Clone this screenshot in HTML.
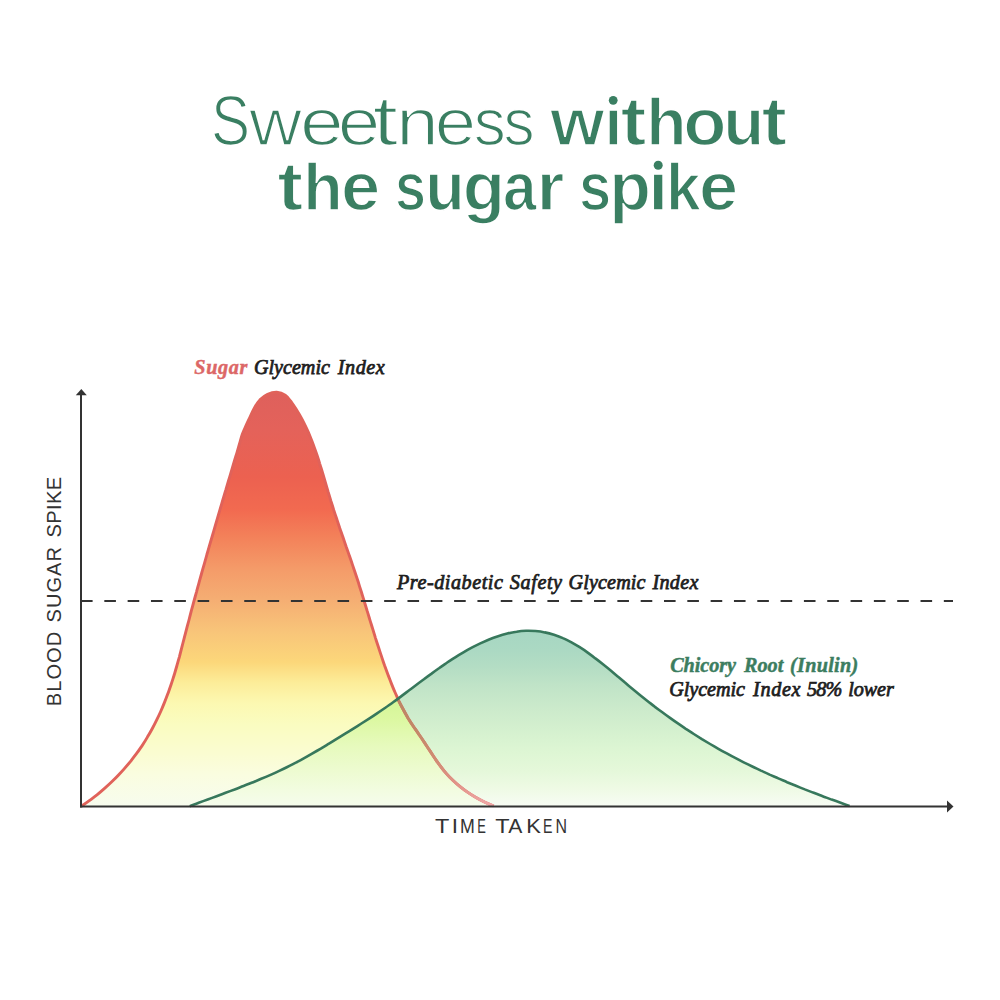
<!DOCTYPE html>
<html><head><meta charset="utf-8"><style>
html,body{margin:0;padding:0;background:#fff;width:1000px;height:1000px;overflow:hidden}
svg{display:block}
</style></head><body>
<svg width="1000" height="1000" viewBox="0 0 1000 1000">
<defs>
<linearGradient id="rg" gradientUnits="userSpaceOnUse" x1="0" y1="390" x2="0" y2="806">
<stop offset="0.000" stop-color="#de605c"/>
<stop offset="0.096" stop-color="#e4625a"/>
<stop offset="0.209" stop-color="#ec6150"/>
<stop offset="0.288" stop-color="#f26a50"/>
<stop offset="0.356" stop-color="#f3825a"/>
<stop offset="0.430" stop-color="#f49b69"/>
<stop offset="0.505" stop-color="#f5ae73"/>
<stop offset="0.579" stop-color="#f8c479"/>
<stop offset="0.654" stop-color="#fcd77a"/>
<stop offset="0.702" stop-color="#fcec98"/>
<stop offset="0.752" stop-color="#fcf8b1"/>
<stop offset="0.803" stop-color="#fafcc0"/>
<stop offset="0.877" stop-color="#fafcd2"/>
<stop offset="0.925" stop-color="#fafde0"/>
<stop offset="1.000" stop-color="#f7fcee"/>
</linearGradient>
<linearGradient id="gg" gradientUnits="userSpaceOnUse" x1="0" y1="631" x2="0" y2="806">
<stop offset="0.000" stop-color="#a6d6c2"/>
<stop offset="0.109" stop-color="#abd9c3"/>
<stop offset="0.206" stop-color="#b4ddc4"/>
<stop offset="0.303" stop-color="#bfe3c7"/>
<stop offset="0.400" stop-color="#c8e8ca"/>
<stop offset="0.503" stop-color="#d0edcd"/>
<stop offset="0.600" stop-color="#d7f2d0"/>
<stop offset="0.697" stop-color="#def6d4"/>
<stop offset="0.800" stop-color="#e5f8da"/>
<stop offset="0.897" stop-color="#eefae4"/>
<stop offset="1.000" stop-color="#f7fcf4"/>
</linearGradient>
<linearGradient id="og" gradientUnits="userSpaceOnUse" x1="0" y1="697" x2="0" y2="806">
<stop offset="0.000" stop-color="#d4f596"/>
<stop offset="0.211" stop-color="#dcf8a2"/>
<stop offset="0.440" stop-color="#e6fabc"/>
<stop offset="0.670" stop-color="#edfbd0"/>
<stop offset="0.853" stop-color="#f2fce0"/>
<stop offset="1.000" stop-color="#f5fcec"/>
</linearGradient>
<linearGradient id="rs" gradientUnits="userSpaceOnUse" x1="0" y1="697" x2="0" y2="806">
<stop offset="0.000" stop-color="#bc8464"/>
<stop offset="0.303" stop-color="#c28868"/>
<stop offset="0.578" stop-color="#d08c74"/>
<stop offset="0.807" stop-color="#e2948a"/>
<stop offset="1.000" stop-color="#f0a8a8"/>
</linearGradient>
<clipPath id="gclip"><path d="M189.8 806.2 C191.3 805.6 195.7 804.0 198.7 802.8 C201.7 801.7 204.7 800.6 207.7 799.5 C210.7 798.4 213.6 797.3 216.6 796.2 C219.6 795.1 222.6 794.0 225.6 792.8 C228.6 791.7 231.6 790.6 234.6 789.5 C237.5 788.3 240.5 787.2 243.5 786.0 C246.5 784.9 249.4 783.7 252.4 782.5 C255.3 781.3 258.3 780.1 261.2 778.8 C264.2 777.6 267.1 776.4 270.0 775.1 C272.9 773.8 275.8 772.5 278.7 771.1 C281.6 769.8 284.5 768.4 287.3 767.0 C290.2 765.6 293.0 764.1 295.8 762.7 C298.6 761.2 301.4 759.7 304.2 758.1 C307.0 756.6 309.8 755.0 312.5 753.4 C315.3 751.8 318.0 750.2 320.8 748.6 C323.5 746.9 326.2 745.3 329.0 743.6 C331.7 742.0 334.4 740.3 337.1 738.6 C339.8 737.0 342.5 735.3 345.2 733.6 C348.0 732.0 350.7 730.3 353.4 728.6 C356.1 726.9 358.7 725.2 361.4 723.5 C364.1 721.8 366.8 720.1 369.5 718.4 C372.1 716.7 374.8 714.9 377.4 713.1 C380.1 711.4 382.7 709.6 385.3 707.8 C387.9 705.9 390.5 704.1 393.1 702.2 C395.7 700.4 398.3 698.5 400.8 696.6 C403.4 694.7 406.0 692.7 408.5 690.8 C411.1 688.9 413.6 687.0 416.2 685.0 C418.7 683.1 421.3 681.2 423.9 679.3 C426.4 677.3 429.0 675.4 431.6 673.6 C434.1 671.7 436.7 669.8 439.3 668.0 C441.9 666.1 444.6 664.3 447.2 662.5 C449.9 660.8 452.5 659.0 455.2 657.3 C457.9 655.6 460.6 654.0 463.4 652.4 C466.1 650.8 468.9 649.2 471.7 647.7 C474.5 646.2 477.4 644.8 480.3 643.4 C483.2 642.1 486.1 640.8 489.1 639.5 C492.0 638.3 495.0 637.2 498.1 636.2 C501.1 635.2 504.2 634.3 507.3 633.5 C510.4 632.7 513.5 632.1 516.6 631.7 C519.7 631.2 522.9 630.9 526.0 630.8 C529.1 630.7 532.3 630.8 535.4 631.0 C538.6 631.3 541.7 631.7 544.8 632.4 C547.9 633.0 551.0 633.8 554.0 634.7 C557.0 635.7 560.0 636.8 562.9 638.1 C565.8 639.3 568.7 640.8 571.5 642.3 C574.3 643.8 577.0 645.5 579.7 647.2 C582.4 648.9 585.1 650.7 587.7 652.6 C590.3 654.5 592.9 656.4 595.4 658.4 C598.0 660.3 600.5 662.3 603.0 664.3 C605.5 666.3 608.0 668.3 610.4 670.3 C612.9 672.4 615.3 674.4 617.7 676.4 C620.2 678.5 622.6 680.5 625.0 682.6 C627.4 684.6 629.9 686.7 632.3 688.7 C634.7 690.7 637.2 692.7 639.6 694.7 C642.1 696.7 644.6 698.7 647.1 700.7 C649.6 702.7 652.1 704.6 654.6 706.6 C657.2 708.5 659.7 710.4 662.3 712.3 C664.8 714.2 667.4 716.1 670.0 717.9 C672.6 719.8 675.2 721.6 677.9 723.4 C680.5 725.2 683.1 727.0 685.8 728.8 C688.5 730.5 691.1 732.3 693.8 734.0 C696.5 735.7 699.2 737.4 701.9 739.1 C704.7 740.8 707.4 742.4 710.1 744.0 C712.9 745.6 715.6 747.2 718.4 748.8 C721.2 750.4 724.0 751.9 726.8 753.4 C729.6 755.0 732.4 756.5 735.2 757.9 C738.0 759.4 740.9 760.9 743.7 762.3 C746.6 763.7 749.4 765.1 752.3 766.5 C755.1 767.9 758.0 769.2 760.9 770.6 C763.8 771.9 766.7 773.2 769.6 774.6 C772.5 775.9 775.4 777.1 778.3 778.4 C781.2 779.7 784.2 780.9 787.1 782.2 C790.0 783.4 793.0 784.6 795.9 785.8 C798.9 787.0 801.8 788.2 804.8 789.4 C807.8 790.5 810.7 791.7 813.7 792.8 C816.7 794.0 819.7 795.1 822.6 796.2 C825.6 797.3 828.6 798.5 831.6 799.6 C834.6 800.6 837.6 801.7 840.6 802.8 C843.6 803.9 848.1 805.5 849.6 806.0 Z"/></clipPath>
</defs>
<!-- title -->
<g font-family="'Liberation Sans', sans-serif" fill="#3a7f62" stroke="#fff" stroke-width="1.6">
<text transform="translate(210.93 145.26) scale(0.8889 1.0717)" font-size="65.9">S</text>
<text transform="translate(249.22 145.20) scale(1.1027 1.0000)" font-size="65.9">w</text>
<text transform="translate(300.12 145.20) scale(1.1902 1.0000)" font-size="65.9">e</text>
<text transform="translate(337.63 145.20) scale(1.1595 1.0000)" font-size="65.9">e</text>
<text transform="translate(372.59 145.25) scale(1.3987 1.0585)" font-size="65.9">t</text>
<text transform="translate(396.30 145.20) scale(1.1593 1.0000)" font-size="65.9">n</text>
<text transform="translate(434.84 145.20) scale(1.1288 1.0000)" font-size="65.9">e</text>
<text transform="translate(473.74 145.20) scale(0.9729 1.0000)" font-size="65.9">s</text>
<text transform="translate(503.51 145.20) scale(0.9434 1.0000)" font-size="65.9">s</text>
<text transform="translate(550.36 145.00) scale(1.0564 1.0000)" font-size="65.9" font-weight="bold">w</text>
<text transform="translate(604.37 145.00) scale(0.9944 1.0000)" font-size="65.9" font-weight="bold">ı</text>
<text transform="translate(620.50 145.04) scale(1.1849 1.0486)" font-size="65.9" font-weight="bold">t</text>
<text transform="translate(646.29 145.00) scale(1.0011 1.0054)" font-size="65.9" font-weight="bold">h</text>
<text transform="translate(683.37 145.00) scale(1.0744 1.0000)" font-size="65.9" font-weight="bold">o</text>
<text transform="translate(723.22 145.00) scale(1.0191 1.0000)" font-size="65.9" font-weight="bold">u</text>
<text transform="translate(761.53 145.04) scale(1.1635 1.0486)" font-size="65.9" font-weight="bold">t</text>
<text transform="translate(277.33 210.41) scale(1.1489 1.0134)" font-size="67.8" font-weight="bold">t</text>
<text transform="translate(303.33 210.38) scale(0.9522 0.9720)" font-size="67.8" font-weight="bold">h</text>
<text transform="translate(341.01 210.40) scale(1.0404 1.0000)" font-size="67.8" font-weight="bold">e</text>
<text transform="translate(394.99 210.40) scale(0.8209 1.0000)" font-size="67.8" font-weight="bold">s</text>
<text transform="translate(425.13 210.40) scale(0.9537 1.0000)" font-size="67.8" font-weight="bold">u</text>
<text transform="translate(462.74 210.40) scale(1.0216 1.0000)" font-size="67.8" font-weight="bold">g</text>
<text transform="translate(503.02 210.40) scale(0.8885 1.0000)" font-size="67.8" font-weight="bold">a</text>
<text transform="translate(536.53 210.40) scale(1.0576 1.0000)" font-size="67.8" font-weight="bold">r</text>
<text transform="translate(579.08 210.40) scale(0.8532 1.0000)" font-size="67.8" font-weight="bold">s</text>
<text transform="translate(609.19 210.40) scale(1.0072 1.0000)" font-size="67.8" font-weight="bold">p</text>
<text transform="translate(648.07 210.40) scale(1.0776 1.0000)" font-size="67.8" font-weight="bold">ı</text>
<text transform="translate(666.01 210.38) scale(0.9192 0.9784)" font-size="67.8" font-weight="bold">k</text>
<text transform="translate(699.02 210.40) scale(1.0372 1.0000)" font-size="67.8" font-weight="bold">e</text>
</g>
<circle cx="613.2" cy="100.3" r="4.4" fill="#3a7f62"/><circle cx="658.2" cy="165.2" r="4.5" fill="#3a7f62"/>
<!-- red curve -->
<path d="M81.5 806.2 C82.8 805.3 86.8 802.6 89.3 800.7 C91.9 798.7 94.5 796.8 97.0 794.8 C99.5 792.8 101.9 790.7 104.3 788.6 C106.8 786.4 109.1 784.3 111.5 782.0 C113.8 779.8 116.1 777.6 118.3 775.2 C120.5 772.9 122.7 770.6 124.8 768.1 C126.9 765.7 129.0 763.3 131.0 760.8 C133.0 758.3 134.9 755.7 136.8 753.2 C138.7 750.6 140.5 747.9 142.3 745.3 C144.1 742.6 145.8 739.9 147.4 737.1 C149.1 734.4 150.7 731.6 152.2 728.8 C153.7 726.0 155.2 723.1 156.6 720.2 C158.0 717.3 159.4 714.4 160.7 711.5 C162.0 708.5 163.2 705.6 164.4 702.6 C165.7 699.6 166.8 696.6 167.9 693.6 C169.0 690.5 170.1 687.5 171.1 684.5 C172.2 681.4 173.1 678.3 174.1 675.3 C175.0 672.2 175.9 669.1 176.8 666.0 C177.7 662.9 178.5 659.8 179.4 656.8 C180.2 653.7 181.0 650.6 181.8 647.4 C182.6 644.3 183.4 641.2 184.2 638.1 C185.0 635.0 185.8 631.9 186.6 628.8 C187.4 625.7 188.3 622.6 189.1 619.5 C189.9 616.4 190.7 613.3 191.5 610.2 C192.4 607.1 193.2 604.0 194.0 600.9 C194.9 597.8 195.7 594.7 196.6 591.6 C197.4 588.5 198.3 585.4 199.1 582.3 C200.0 579.2 200.8 576.1 201.7 573.0 C202.6 569.9 203.4 566.8 204.3 563.8 C205.2 560.7 206.1 557.6 206.9 554.5 C207.8 551.4 208.7 548.3 209.6 545.2 C210.5 542.1 211.4 539.0 212.3 536.0 C213.2 532.9 214.1 529.8 215.0 526.7 C215.9 523.6 216.8 520.5 217.7 517.4 C218.6 514.4 219.5 511.3 220.4 508.2 C221.3 505.1 222.2 502.0 223.1 498.9 C224.0 495.9 224.9 492.8 225.9 489.7 C226.8 486.6 227.7 483.5 228.6 480.5 C229.5 477.4 230.5 474.3 231.4 471.2 C232.3 468.2 233.2 465.1 234.1 462.0 C235.0 458.9 236.0 455.8 236.9 452.8 C237.8 449.7 238.7 446.6 239.6 443.5 C240.5 440.4 241.3 437.3 242.3 434.3 C243.4 431.3 244.7 428.5 246.0 425.6 C247.3 422.7 248.7 419.8 250.1 416.8 C251.5 413.9 252.8 410.7 254.4 407.9 C256.0 405.0 257.7 402.2 259.9 399.9 C262.1 397.7 264.8 395.6 267.6 394.3 C270.4 393.1 273.8 392.2 276.7 392.3 C279.7 392.5 282.7 393.5 285.2 395.2 C287.6 396.9 289.7 400.0 291.7 402.6 C293.7 405.2 295.4 408.1 297.1 410.8 C298.9 413.6 300.5 416.4 302.0 419.2 C303.5 422.0 304.9 424.9 306.2 427.7 C307.6 430.6 308.9 433.5 310.1 436.5 C311.3 439.4 312.5 442.4 313.6 445.4 C314.7 448.4 315.7 451.4 316.8 454.4 C317.8 457.5 318.8 460.5 319.7 463.6 C320.7 466.7 321.6 469.8 322.6 472.9 C323.5 475.9 324.4 479.0 325.3 482.1 C326.2 485.2 327.1 488.3 328.0 491.4 C329.0 494.5 329.9 497.6 330.8 500.7 C331.8 503.8 332.8 506.8 333.7 509.9 C334.7 513.0 335.7 516.0 336.8 519.1 C337.8 522.1 338.8 525.2 339.8 528.2 C340.9 531.2 341.9 534.3 343.0 537.3 C344.0 540.3 345.1 543.4 346.1 546.4 C347.2 549.4 348.2 552.4 349.3 555.5 C350.3 558.5 351.4 561.5 352.4 564.6 C353.4 567.6 354.5 570.6 355.5 573.7 C356.5 576.7 357.5 579.8 358.5 582.8 C359.4 585.9 360.4 588.9 361.4 592.0 C362.3 595.1 363.3 598.1 364.2 601.2 C365.2 604.3 366.1 607.3 367.0 610.4 C368.0 613.5 368.9 616.6 369.8 619.6 C370.8 622.7 371.7 625.8 372.7 628.9 C373.6 631.9 374.6 635.0 375.5 638.1 C376.5 641.2 377.5 644.2 378.5 647.3 C379.5 650.3 380.5 653.4 381.5 656.4 C382.5 659.5 383.6 662.5 384.6 665.5 C385.7 668.6 386.8 671.6 387.9 674.6 C389.1 677.6 390.2 680.6 391.4 683.6 C392.6 686.6 393.8 689.6 395.1 692.5 C396.4 695.4 397.7 698.4 399.0 701.3 C400.4 704.2 401.9 707.0 403.4 709.8 C404.9 712.7 406.5 715.5 408.1 718.2 C409.8 720.9 411.5 723.6 413.3 726.3 C415.1 728.9 417.0 731.5 418.8 734.2 C420.6 736.8 422.5 739.5 424.2 742.2 C426.0 744.8 427.7 747.6 429.5 750.2 C431.3 752.9 433.0 755.6 434.8 758.3 C436.6 760.9 438.4 763.6 440.4 766.1 C442.3 768.7 444.3 771.2 446.4 773.6 C448.5 776.0 450.7 778.3 453.1 780.5 C455.4 782.7 457.8 784.8 460.4 786.8 C462.9 788.8 465.5 790.8 468.2 792.6 C470.9 794.4 473.6 796.1 476.4 797.7 C479.2 799.3 482.1 800.8 485.0 802.2 C487.9 803.6 492.2 805.4 493.7 806.0 Z" fill="url(#rg)"/>
<path d="M189.8 806.2 C191.3 805.6 195.7 804.0 198.7 802.8 C201.7 801.7 204.7 800.6 207.7 799.5 C210.7 798.4 213.6 797.3 216.6 796.2 C219.6 795.1 222.6 794.0 225.6 792.8 C228.6 791.7 231.6 790.6 234.6 789.5 C237.5 788.3 240.5 787.2 243.5 786.0 C246.5 784.9 249.4 783.7 252.4 782.5 C255.3 781.3 258.3 780.1 261.2 778.8 C264.2 777.6 267.1 776.4 270.0 775.1 C272.9 773.8 275.8 772.5 278.7 771.1 C281.6 769.8 284.5 768.4 287.3 767.0 C290.2 765.6 293.0 764.1 295.8 762.7 C298.6 761.2 301.4 759.7 304.2 758.1 C307.0 756.6 309.8 755.0 312.5 753.4 C315.3 751.8 318.0 750.2 320.8 748.6 C323.5 746.9 326.2 745.3 329.0 743.6 C331.7 742.0 334.4 740.3 337.1 738.6 C339.8 737.0 342.5 735.3 345.2 733.6 C348.0 732.0 350.7 730.3 353.4 728.6 C356.1 726.9 358.7 725.2 361.4 723.5 C364.1 721.8 366.8 720.1 369.5 718.4 C372.1 716.7 374.8 714.9 377.4 713.1 C380.1 711.4 382.7 709.6 385.3 707.8 C387.9 705.9 390.5 704.1 393.1 702.2 C395.7 700.4 398.3 698.5 400.8 696.6 C403.4 694.7 406.0 692.7 408.5 690.8 C411.1 688.9 413.6 687.0 416.2 685.0 C418.7 683.1 421.3 681.2 423.9 679.3 C426.4 677.3 429.0 675.4 431.6 673.6 C434.1 671.7 436.7 669.8 439.3 668.0 C441.9 666.1 444.6 664.3 447.2 662.5 C449.9 660.8 452.5 659.0 455.2 657.3 C457.9 655.6 460.6 654.0 463.4 652.4 C466.1 650.8 468.9 649.2 471.7 647.7 C474.5 646.2 477.4 644.8 480.3 643.4 C483.2 642.1 486.1 640.8 489.1 639.5 C492.0 638.3 495.0 637.2 498.1 636.2 C501.1 635.2 504.2 634.3 507.3 633.5 C510.4 632.7 513.5 632.1 516.6 631.7 C519.7 631.2 522.9 630.9 526.0 630.8 C529.1 630.7 532.3 630.8 535.4 631.0 C538.6 631.3 541.7 631.7 544.8 632.4 C547.9 633.0 551.0 633.8 554.0 634.7 C557.0 635.7 560.0 636.8 562.9 638.1 C565.8 639.3 568.7 640.8 571.5 642.3 C574.3 643.8 577.0 645.5 579.7 647.2 C582.4 648.9 585.1 650.7 587.7 652.6 C590.3 654.5 592.9 656.4 595.4 658.4 C598.0 660.3 600.5 662.3 603.0 664.3 C605.5 666.3 608.0 668.3 610.4 670.3 C612.9 672.4 615.3 674.4 617.7 676.4 C620.2 678.5 622.6 680.5 625.0 682.6 C627.4 684.6 629.9 686.7 632.3 688.7 C634.7 690.7 637.2 692.7 639.6 694.7 C642.1 696.7 644.6 698.7 647.1 700.7 C649.6 702.7 652.1 704.6 654.6 706.6 C657.2 708.5 659.7 710.4 662.3 712.3 C664.8 714.2 667.4 716.1 670.0 717.9 C672.6 719.8 675.2 721.6 677.9 723.4 C680.5 725.2 683.1 727.0 685.8 728.8 C688.5 730.5 691.1 732.3 693.8 734.0 C696.5 735.7 699.2 737.4 701.9 739.1 C704.7 740.8 707.4 742.4 710.1 744.0 C712.9 745.6 715.6 747.2 718.4 748.8 C721.2 750.4 724.0 751.9 726.8 753.4 C729.6 755.0 732.4 756.5 735.2 757.9 C738.0 759.4 740.9 760.9 743.7 762.3 C746.6 763.7 749.4 765.1 752.3 766.5 C755.1 767.9 758.0 769.2 760.9 770.6 C763.8 771.9 766.7 773.2 769.6 774.6 C772.5 775.9 775.4 777.1 778.3 778.4 C781.2 779.7 784.2 780.9 787.1 782.2 C790.0 783.4 793.0 784.6 795.9 785.8 C798.9 787.0 801.8 788.2 804.8 789.4 C807.8 790.5 810.7 791.7 813.7 792.8 C816.7 794.0 819.7 795.1 822.6 796.2 C825.6 797.3 828.6 798.5 831.6 799.6 C834.6 800.6 837.6 801.7 840.6 802.8 C843.6 803.9 848.1 805.5 849.6 806.0 Z" fill="url(#gg)"/>
<path d="M81.5 806.2 C82.8 805.3 86.8 802.6 89.3 800.7 C91.9 798.7 94.5 796.8 97.0 794.8 C99.5 792.8 101.9 790.7 104.3 788.6 C106.8 786.4 109.1 784.3 111.5 782.0 C113.8 779.8 116.1 777.6 118.3 775.2 C120.5 772.9 122.7 770.6 124.8 768.1 C126.9 765.7 129.0 763.3 131.0 760.8 C133.0 758.3 134.9 755.7 136.8 753.2 C138.7 750.6 140.5 747.9 142.3 745.3 C144.1 742.6 145.8 739.9 147.4 737.1 C149.1 734.4 150.7 731.6 152.2 728.8 C153.7 726.0 155.2 723.1 156.6 720.2 C158.0 717.3 159.4 714.4 160.7 711.5 C162.0 708.5 163.2 705.6 164.4 702.6 C165.7 699.6 166.8 696.6 167.9 693.6 C169.0 690.5 170.1 687.5 171.1 684.5 C172.2 681.4 173.1 678.3 174.1 675.3 C175.0 672.2 175.9 669.1 176.8 666.0 C177.7 662.9 178.5 659.8 179.4 656.8 C180.2 653.7 181.0 650.6 181.8 647.4 C182.6 644.3 183.4 641.2 184.2 638.1 C185.0 635.0 185.8 631.9 186.6 628.8 C187.4 625.7 188.3 622.6 189.1 619.5 C189.9 616.4 190.7 613.3 191.5 610.2 C192.4 607.1 193.2 604.0 194.0 600.9 C194.9 597.8 195.7 594.7 196.6 591.6 C197.4 588.5 198.3 585.4 199.1 582.3 C200.0 579.2 200.8 576.1 201.7 573.0 C202.6 569.9 203.4 566.8 204.3 563.8 C205.2 560.7 206.1 557.6 206.9 554.5 C207.8 551.4 208.7 548.3 209.6 545.2 C210.5 542.1 211.4 539.0 212.3 536.0 C213.2 532.9 214.1 529.8 215.0 526.7 C215.9 523.6 216.8 520.5 217.7 517.4 C218.6 514.4 219.5 511.3 220.4 508.2 C221.3 505.1 222.2 502.0 223.1 498.9 C224.0 495.9 224.9 492.8 225.9 489.7 C226.8 486.6 227.7 483.5 228.6 480.5 C229.5 477.4 230.5 474.3 231.4 471.2 C232.3 468.2 233.2 465.1 234.1 462.0 C235.0 458.9 236.0 455.8 236.9 452.8 C237.8 449.7 238.7 446.6 239.6 443.5 C240.5 440.4 241.3 437.3 242.3 434.3 C243.4 431.3 244.7 428.5 246.0 425.6 C247.3 422.7 248.7 419.8 250.1 416.8 C251.5 413.9 252.8 410.7 254.4 407.9 C256.0 405.0 257.7 402.2 259.9 399.9 C262.1 397.7 264.8 395.6 267.6 394.3 C270.4 393.1 273.8 392.2 276.7 392.3 C279.7 392.5 282.7 393.5 285.2 395.2 C287.6 396.9 289.7 400.0 291.7 402.6 C293.7 405.2 295.4 408.1 297.1 410.8 C298.9 413.6 300.5 416.4 302.0 419.2 C303.5 422.0 304.9 424.9 306.2 427.7 C307.6 430.6 308.9 433.5 310.1 436.5 C311.3 439.4 312.5 442.4 313.6 445.4 C314.7 448.4 315.7 451.4 316.8 454.4 C317.8 457.5 318.8 460.5 319.7 463.6 C320.7 466.7 321.6 469.8 322.6 472.9 C323.5 475.9 324.4 479.0 325.3 482.1 C326.2 485.2 327.1 488.3 328.0 491.4 C329.0 494.5 329.9 497.6 330.8 500.7 C331.8 503.8 332.8 506.8 333.7 509.9 C334.7 513.0 335.7 516.0 336.8 519.1 C337.8 522.1 338.8 525.2 339.8 528.2 C340.9 531.2 341.9 534.3 343.0 537.3 C344.0 540.3 345.1 543.4 346.1 546.4 C347.2 549.4 348.2 552.4 349.3 555.5 C350.3 558.5 351.4 561.5 352.4 564.6 C353.4 567.6 354.5 570.6 355.5 573.7 C356.5 576.7 357.5 579.8 358.5 582.8 C359.4 585.9 360.4 588.9 361.4 592.0 C362.3 595.1 363.3 598.1 364.2 601.2 C365.2 604.3 366.1 607.3 367.0 610.4 C368.0 613.5 368.9 616.6 369.8 619.6 C370.8 622.7 371.7 625.8 372.7 628.9 C373.6 631.9 374.6 635.0 375.5 638.1 C376.5 641.2 377.5 644.2 378.5 647.3 C379.5 650.3 380.5 653.4 381.5 656.4 C382.5 659.5 383.6 662.5 384.6 665.5 C385.7 668.6 386.8 671.6 387.9 674.6 C389.1 677.6 390.2 680.6 391.4 683.6 C392.6 686.6 393.8 689.6 395.1 692.5 C396.4 695.4 397.7 698.4 399.0 701.3 C400.4 704.2 401.9 707.0 403.4 709.8 C404.9 712.7 406.5 715.5 408.1 718.2 C409.8 720.9 411.5 723.6 413.3 726.3 C415.1 728.9 417.0 731.5 418.8 734.2 C420.6 736.8 422.5 739.5 424.2 742.2 C426.0 744.8 427.7 747.6 429.5 750.2 C431.3 752.9 433.0 755.6 434.8 758.3 C436.6 760.9 438.4 763.6 440.4 766.1 C442.3 768.7 444.3 771.2 446.4 773.6 C448.5 776.0 450.7 778.3 453.1 780.5 C455.4 782.7 457.8 784.8 460.4 786.8 C462.9 788.8 465.5 790.8 468.2 792.6 C470.9 794.4 473.6 796.1 476.4 797.7 C479.2 799.3 482.1 800.8 485.0 802.2 C487.9 803.6 492.2 805.4 493.7 806.0 Z" fill="url(#og)" clip-path="url(#gclip)"/>
<path d="M81.5 806.2 C82.8 805.3 86.8 802.6 89.3 800.7 C91.9 798.7 94.5 796.8 97.0 794.8 C99.5 792.8 101.9 790.7 104.3 788.6 C106.8 786.4 109.1 784.3 111.5 782.0 C113.8 779.8 116.1 777.6 118.3 775.2 C120.5 772.9 122.7 770.6 124.8 768.1 C126.9 765.7 129.0 763.3 131.0 760.8 C133.0 758.3 134.9 755.7 136.8 753.2 C138.7 750.6 140.5 747.9 142.3 745.3 C144.1 742.6 145.8 739.9 147.4 737.1 C149.1 734.4 150.7 731.6 152.2 728.8 C153.7 726.0 155.2 723.1 156.6 720.2 C158.0 717.3 159.4 714.4 160.7 711.5 C162.0 708.5 163.2 705.6 164.4 702.6 C165.7 699.6 166.8 696.6 167.9 693.6 C169.0 690.5 170.1 687.5 171.1 684.5 C172.2 681.4 173.1 678.3 174.1 675.3 C175.0 672.2 175.9 669.1 176.8 666.0 C177.7 662.9 178.5 659.8 179.4 656.8 C180.2 653.7 181.0 650.6 181.8 647.4 C182.6 644.3 183.4 641.2 184.2 638.1 C185.0 635.0 185.8 631.9 186.6 628.8 C187.4 625.7 188.3 622.6 189.1 619.5 C189.9 616.4 190.7 613.3 191.5 610.2 C192.4 607.1 193.2 604.0 194.0 600.9 C194.9 597.8 195.7 594.7 196.6 591.6 C197.4 588.5 198.3 585.4 199.1 582.3 C200.0 579.2 200.8 576.1 201.7 573.0 C202.6 569.9 203.4 566.8 204.3 563.8 C205.2 560.7 206.1 557.6 206.9 554.5 C207.8 551.4 208.7 548.3 209.6 545.2 C210.5 542.1 211.4 539.0 212.3 536.0 C213.2 532.9 214.1 529.8 215.0 526.7 C215.9 523.6 216.8 520.5 217.7 517.4 C218.6 514.4 219.5 511.3 220.4 508.2 C221.3 505.1 222.2 502.0 223.1 498.9 C224.0 495.9 224.9 492.8 225.9 489.7 C226.8 486.6 227.7 483.5 228.6 480.5 C229.5 477.4 230.5 474.3 231.4 471.2 C232.3 468.2 233.2 465.1 234.1 462.0 C235.0 458.9 236.0 455.8 236.9 452.8 C237.8 449.7 238.7 446.6 239.6 443.5 C240.5 440.4 241.3 437.3 242.3 434.3 C243.4 431.3 244.7 428.5 246.0 425.6 C247.3 422.7 248.7 419.8 250.1 416.8 C251.5 413.9 252.8 410.7 254.4 407.9 C256.0 405.0 257.7 402.2 259.9 399.9 C262.1 397.7 264.8 395.6 267.6 394.3 C270.4 393.1 273.8 392.2 276.7 392.3 C279.7 392.5 282.7 393.5 285.2 395.2 C287.6 396.9 289.7 400.0 291.7 402.6 C293.7 405.2 295.4 408.1 297.1 410.8 C298.9 413.6 300.5 416.4 302.0 419.2 C303.5 422.0 304.9 424.9 306.2 427.7 C307.6 430.6 308.9 433.5 310.1 436.5 C311.3 439.4 312.5 442.4 313.6 445.4 C314.7 448.4 315.7 451.4 316.8 454.4 C317.8 457.5 318.8 460.5 319.7 463.6 C320.7 466.7 321.6 469.8 322.6 472.9 C323.5 475.9 324.4 479.0 325.3 482.1 C326.2 485.2 327.1 488.3 328.0 491.4 C329.0 494.5 329.9 497.6 330.8 500.7 C331.8 503.8 332.8 506.8 333.7 509.9 C334.7 513.0 335.7 516.0 336.8 519.1 C337.8 522.1 338.8 525.2 339.8 528.2 C340.9 531.2 341.9 534.3 343.0 537.3 C344.0 540.3 345.1 543.4 346.1 546.4 C347.2 549.4 348.2 552.4 349.3 555.5 C350.3 558.5 351.4 561.5 352.4 564.6 C353.4 567.6 354.5 570.6 355.5 573.7 C356.5 576.7 357.5 579.8 358.5 582.8 C359.4 585.9 360.4 588.9 361.4 592.0 C362.3 595.1 363.3 598.1 364.2 601.2 C365.2 604.3 366.1 607.3 367.0 610.4 C368.0 613.5 368.9 616.6 369.8 619.6 C370.8 622.7 371.7 625.8 372.7 628.9 C373.6 631.9 374.6 635.0 375.5 638.1 C376.5 641.2 377.5 644.2 378.5 647.3 C379.5 650.3 380.5 653.4 381.5 656.4 C382.5 659.5 383.6 662.5 384.6 665.5 C385.7 668.6 386.8 671.6 387.9 674.6 C389.1 677.6 390.2 680.6 391.4 683.6 C392.6 686.6 393.8 689.6 395.1 692.5 C396.4 695.4 397.7 698.4 399.0 701.3 C400.4 704.2 401.9 707.0 403.4 709.8 C404.9 712.7 406.5 715.5 408.1 718.2 C409.8 720.9 411.5 723.6 413.3 726.3 C415.1 728.9 417.0 731.5 418.8 734.2 C420.6 736.8 422.5 739.5 424.2 742.2 C426.0 744.8 427.7 747.6 429.5 750.2 C431.3 752.9 433.0 755.6 434.8 758.3 C436.6 760.9 438.4 763.6 440.4 766.1 C442.3 768.7 444.3 771.2 446.4 773.6 C448.5 776.0 450.7 778.3 453.1 780.5 C455.4 782.7 457.8 784.8 460.4 786.8 C462.9 788.8 465.5 790.8 468.2 792.6 C470.9 794.4 473.6 796.1 476.4 797.7 C479.2 799.3 482.1 800.8 485.0 802.2 C487.9 803.6 492.2 805.4 493.7 806.0" fill="none" stroke="#e0625a" stroke-width="2.9"/>
<path d="M81.5 806.2 C82.8 805.3 86.8 802.6 89.3 800.7 C91.9 798.7 94.5 796.8 97.0 794.8 C99.5 792.8 101.9 790.7 104.3 788.6 C106.8 786.4 109.1 784.3 111.5 782.0 C113.8 779.8 116.1 777.6 118.3 775.2 C120.5 772.9 122.7 770.6 124.8 768.1 C126.9 765.7 129.0 763.3 131.0 760.8 C133.0 758.3 134.9 755.7 136.8 753.2 C138.7 750.6 140.5 747.9 142.3 745.3 C144.1 742.6 145.8 739.9 147.4 737.1 C149.1 734.4 150.7 731.6 152.2 728.8 C153.7 726.0 155.2 723.1 156.6 720.2 C158.0 717.3 159.4 714.4 160.7 711.5 C162.0 708.5 163.2 705.6 164.4 702.6 C165.7 699.6 166.8 696.6 167.9 693.6 C169.0 690.5 170.1 687.5 171.1 684.5 C172.2 681.4 173.1 678.3 174.1 675.3 C175.0 672.2 175.9 669.1 176.8 666.0 C177.7 662.9 178.5 659.8 179.4 656.8 C180.2 653.7 181.0 650.6 181.8 647.4 C182.6 644.3 183.4 641.2 184.2 638.1 C185.0 635.0 185.8 631.9 186.6 628.8 C187.4 625.7 188.3 622.6 189.1 619.5 C189.9 616.4 190.7 613.3 191.5 610.2 C192.4 607.1 193.2 604.0 194.0 600.9 C194.9 597.8 195.7 594.7 196.6 591.6 C197.4 588.5 198.3 585.4 199.1 582.3 C200.0 579.2 200.8 576.1 201.7 573.0 C202.6 569.9 203.4 566.8 204.3 563.8 C205.2 560.7 206.1 557.6 206.9 554.5 C207.8 551.4 208.7 548.3 209.6 545.2 C210.5 542.1 211.4 539.0 212.3 536.0 C213.2 532.9 214.1 529.8 215.0 526.7 C215.9 523.6 216.8 520.5 217.7 517.4 C218.6 514.4 219.5 511.3 220.4 508.2 C221.3 505.1 222.2 502.0 223.1 498.9 C224.0 495.9 224.9 492.8 225.9 489.7 C226.8 486.6 227.7 483.5 228.6 480.5 C229.5 477.4 230.5 474.3 231.4 471.2 C232.3 468.2 233.2 465.1 234.1 462.0 C235.0 458.9 236.0 455.8 236.9 452.8 C237.8 449.7 238.7 446.6 239.6 443.5 C240.5 440.4 241.3 437.3 242.3 434.3 C243.4 431.3 244.7 428.5 246.0 425.6 C247.3 422.7 248.7 419.8 250.1 416.8 C251.5 413.9 252.8 410.7 254.4 407.9 C256.0 405.0 257.7 402.2 259.9 399.9 C262.1 397.7 264.8 395.6 267.6 394.3 C270.4 393.1 273.8 392.2 276.7 392.3 C279.7 392.5 282.7 393.5 285.2 395.2 C287.6 396.9 289.7 400.0 291.7 402.6 C293.7 405.2 295.4 408.1 297.1 410.8 C298.9 413.6 300.5 416.4 302.0 419.2 C303.5 422.0 304.9 424.9 306.2 427.7 C307.6 430.6 308.9 433.5 310.1 436.5 C311.3 439.4 312.5 442.4 313.6 445.4 C314.7 448.4 315.7 451.4 316.8 454.4 C317.8 457.5 318.8 460.5 319.7 463.6 C320.7 466.7 321.6 469.8 322.6 472.9 C323.5 475.9 324.4 479.0 325.3 482.1 C326.2 485.2 327.1 488.3 328.0 491.4 C329.0 494.5 329.9 497.6 330.8 500.7 C331.8 503.8 332.8 506.8 333.7 509.9 C334.7 513.0 335.7 516.0 336.8 519.1 C337.8 522.1 338.8 525.2 339.8 528.2 C340.9 531.2 341.9 534.3 343.0 537.3 C344.0 540.3 345.1 543.4 346.1 546.4 C347.2 549.4 348.2 552.4 349.3 555.5 C350.3 558.5 351.4 561.5 352.4 564.6 C353.4 567.6 354.5 570.6 355.5 573.7 C356.5 576.7 357.5 579.8 358.5 582.8 C359.4 585.9 360.4 588.9 361.4 592.0 C362.3 595.1 363.3 598.1 364.2 601.2 C365.2 604.3 366.1 607.3 367.0 610.4 C368.0 613.5 368.9 616.6 369.8 619.6 C370.8 622.7 371.7 625.8 372.7 628.9 C373.6 631.9 374.6 635.0 375.5 638.1 C376.5 641.2 377.5 644.2 378.5 647.3 C379.5 650.3 380.5 653.4 381.5 656.4 C382.5 659.5 383.6 662.5 384.6 665.5 C385.7 668.6 386.8 671.6 387.9 674.6 C389.1 677.6 390.2 680.6 391.4 683.6 C392.6 686.6 393.8 689.6 395.1 692.5 C396.4 695.4 397.7 698.4 399.0 701.3 C400.4 704.2 401.9 707.0 403.4 709.8 C404.9 712.7 406.5 715.5 408.1 718.2 C409.8 720.9 411.5 723.6 413.3 726.3 C415.1 728.9 417.0 731.5 418.8 734.2 C420.6 736.8 422.5 739.5 424.2 742.2 C426.0 744.8 427.7 747.6 429.5 750.2 C431.3 752.9 433.0 755.6 434.8 758.3 C436.6 760.9 438.4 763.6 440.4 766.1 C442.3 768.7 444.3 771.2 446.4 773.6 C448.5 776.0 450.7 778.3 453.1 780.5 C455.4 782.7 457.8 784.8 460.4 786.8 C462.9 788.8 465.5 790.8 468.2 792.6 C470.9 794.4 473.6 796.1 476.4 797.7 C479.2 799.3 482.1 800.8 485.0 802.2 C487.9 803.6 492.2 805.4 493.7 806.0" fill="none" stroke="url(#rs)" stroke-width="2.9" clip-path="url(#gclip)"/>
<path d="M189.8 806.2 C191.3 805.6 195.7 804.0 198.7 802.8 C201.7 801.7 204.7 800.6 207.7 799.5 C210.7 798.4 213.6 797.3 216.6 796.2 C219.6 795.1 222.6 794.0 225.6 792.8 C228.6 791.7 231.6 790.6 234.6 789.5 C237.5 788.3 240.5 787.2 243.5 786.0 C246.5 784.9 249.4 783.7 252.4 782.5 C255.3 781.3 258.3 780.1 261.2 778.8 C264.2 777.6 267.1 776.4 270.0 775.1 C272.9 773.8 275.8 772.5 278.7 771.1 C281.6 769.8 284.5 768.4 287.3 767.0 C290.2 765.6 293.0 764.1 295.8 762.7 C298.6 761.2 301.4 759.7 304.2 758.1 C307.0 756.6 309.8 755.0 312.5 753.4 C315.3 751.8 318.0 750.2 320.8 748.6 C323.5 746.9 326.2 745.3 329.0 743.6 C331.7 742.0 334.4 740.3 337.1 738.6 C339.8 737.0 342.5 735.3 345.2 733.6 C348.0 732.0 350.7 730.3 353.4 728.6 C356.1 726.9 358.7 725.2 361.4 723.5 C364.1 721.8 366.8 720.1 369.5 718.4 C372.1 716.7 374.8 714.9 377.4 713.1 C380.1 711.4 382.7 709.6 385.3 707.8 C387.9 705.9 390.5 704.1 393.1 702.2 C395.7 700.4 398.3 698.5 400.8 696.6 C403.4 694.7 406.0 692.7 408.5 690.8 C411.1 688.9 413.6 687.0 416.2 685.0 C418.7 683.1 421.3 681.2 423.9 679.3 C426.4 677.3 429.0 675.4 431.6 673.6 C434.1 671.7 436.7 669.8 439.3 668.0 C441.9 666.1 444.6 664.3 447.2 662.5 C449.9 660.8 452.5 659.0 455.2 657.3 C457.9 655.6 460.6 654.0 463.4 652.4 C466.1 650.8 468.9 649.2 471.7 647.7 C474.5 646.2 477.4 644.8 480.3 643.4 C483.2 642.1 486.1 640.8 489.1 639.5 C492.0 638.3 495.0 637.2 498.1 636.2 C501.1 635.2 504.2 634.3 507.3 633.5 C510.4 632.7 513.5 632.1 516.6 631.7 C519.7 631.2 522.9 630.9 526.0 630.8 C529.1 630.7 532.3 630.8 535.4 631.0 C538.6 631.3 541.7 631.7 544.8 632.4 C547.9 633.0 551.0 633.8 554.0 634.7 C557.0 635.7 560.0 636.8 562.9 638.1 C565.8 639.3 568.7 640.8 571.5 642.3 C574.3 643.8 577.0 645.5 579.7 647.2 C582.4 648.9 585.1 650.7 587.7 652.6 C590.3 654.5 592.9 656.4 595.4 658.4 C598.0 660.3 600.5 662.3 603.0 664.3 C605.5 666.3 608.0 668.3 610.4 670.3 C612.9 672.4 615.3 674.4 617.7 676.4 C620.2 678.5 622.6 680.5 625.0 682.6 C627.4 684.6 629.9 686.7 632.3 688.7 C634.7 690.7 637.2 692.7 639.6 694.7 C642.1 696.7 644.6 698.7 647.1 700.7 C649.6 702.7 652.1 704.6 654.6 706.6 C657.2 708.5 659.7 710.4 662.3 712.3 C664.8 714.2 667.4 716.1 670.0 717.9 C672.6 719.8 675.2 721.6 677.9 723.4 C680.5 725.2 683.1 727.0 685.8 728.8 C688.5 730.5 691.1 732.3 693.8 734.0 C696.5 735.7 699.2 737.4 701.9 739.1 C704.7 740.8 707.4 742.4 710.1 744.0 C712.9 745.6 715.6 747.2 718.4 748.8 C721.2 750.4 724.0 751.9 726.8 753.4 C729.6 755.0 732.4 756.5 735.2 757.9 C738.0 759.4 740.9 760.9 743.7 762.3 C746.6 763.7 749.4 765.1 752.3 766.5 C755.1 767.9 758.0 769.2 760.9 770.6 C763.8 771.9 766.7 773.2 769.6 774.6 C772.5 775.9 775.4 777.1 778.3 778.4 C781.2 779.7 784.2 780.9 787.1 782.2 C790.0 783.4 793.0 784.6 795.9 785.8 C798.9 787.0 801.8 788.2 804.8 789.4 C807.8 790.5 810.7 791.7 813.7 792.8 C816.7 794.0 819.7 795.1 822.6 796.2 C825.6 797.3 828.6 798.5 831.6 799.6 C834.6 800.6 837.6 801.7 840.6 802.8 C843.6 803.9 848.1 805.5 849.6 806.0" fill="none" stroke="#37785c" stroke-width="2.6"/>
<!-- dashed -->
<line x1="81" y1="601" x2="953" y2="601" stroke="#333" stroke-width="1.8" stroke-dasharray="11.6 11.72"/>
<!-- axes -->
<line x1="81" y1="394" x2="81" y2="807.5" stroke="#333" stroke-width="2"/>
<path d="M75.8 395.2 L81.3 389 L86.8 395.2 Z" fill="#333"/>
<line x1="80" y1="806.5" x2="948" y2="806.5" stroke="#333" stroke-width="2"/>
<path d="M947 800.5 L953.5 806.5 L947 812.5 Z" fill="#333"/>

<!-- labels -->
<text x="194.30" y="373.70" font-family="'Liberation Serif', serif" font-size="20.20" font-weight="bold" font-style="italic" letter-spacing="0.626" fill="#dc6767" stroke="#dc6767" stroke-width="0.45">Sugar</text>
<text x="254.00" y="373.70" font-family="'Liberation Serif', serif" font-size="20.20" font-style="italic" letter-spacing="-0.041" fill="#1e1e1e" stroke="#1e1e1e" stroke-width="0.75">Glycemic</text>
<text x="337.81" y="373.70" font-family="'Liberation Serif', serif" font-size="20.20" font-style="italic" letter-spacing="0.535" fill="#1e1e1e" stroke="#1e1e1e" stroke-width="0.75">Index</text>
<text x="396.95" y="588.80" font-family="'Liberation Serif', serif" font-size="20.20" font-style="italic" letter-spacing="0.530" fill="#1e1e1e" stroke="#1e1e1e" stroke-width="0.75">Pre-diabetic</text>
<text x="509.84" y="588.80" font-family="'Liberation Serif', serif" font-size="20.20" font-style="italic" letter-spacing="0.586" fill="#1e1e1e" stroke="#1e1e1e" stroke-width="0.75">Safety</text>
<text x="568.59" y="588.80" font-family="'Liberation Serif', serif" font-size="20.20" font-style="italic" letter-spacing="0.102" fill="#1e1e1e" stroke="#1e1e1e" stroke-width="0.75">Glycemic</text>
<text x="652.38" y="588.80" font-family="'Liberation Serif', serif" font-size="20.20" font-style="italic" letter-spacing="0.340" fill="#1e1e1e" stroke="#1e1e1e" stroke-width="0.75">Index</text>
<text x="670.16" y="672.40" font-family="'Liberation Serif', serif" font-size="20.20" font-weight="bold" font-style="italic" letter-spacing="-0.044" fill="#3c7d5f" stroke="#3c7d5f" stroke-width="0.45">Chicory</text>
<text x="744.00" y="672.40" font-family="'Liberation Serif', serif" font-size="20.20" font-weight="bold" font-style="italic" fill="#3c7d5f" stroke="#3c7d5f" stroke-width="0.45">Root</text>
<text x="790.00" y="672.40" font-family="'Liberation Serif', serif" font-size="20.20" font-weight="bold" font-style="italic" letter-spacing="0.286" fill="#3c7d5f" stroke="#3c7d5f" stroke-width="0.45">(Inulin)</text>
<text x="669.29" y="695.50" font-family="'Liberation Serif', serif" font-size="20.20" font-style="italic" letter-spacing="-0.085" fill="#1e1e1e" stroke="#1e1e1e" stroke-width="0.75">Glycemic</text>
<text x="753.00" y="695.50" font-family="'Liberation Serif', serif" font-size="20.20" font-style="italic" letter-spacing="0.663" fill="#1e1e1e" stroke="#1e1e1e" stroke-width="0.75">Index</text>
<text x="807.00" y="695.50" font-family="'Liberation Serif', serif" font-size="20.20" font-style="italic" letter-spacing="-0.873" fill="#1e1e1e" stroke="#1e1e1e" stroke-width="0.75">58%</text>
<text x="848.33" y="695.50" font-family="'Liberation Serif', serif" font-size="20.20" font-style="italic" letter-spacing="-0.135" fill="#1e1e1e" stroke="#1e1e1e" stroke-width="0.75">lower</text>
<text x="0" y="0" transform="translate(61.00 706.20) rotate(-90)" font-family="'Liberation Sans', sans-serif" font-size="20.10" letter-spacing="1.024" fill="#333" >BLOOD</text>
<text x="0" y="0" transform="translate(61.00 622.40) rotate(-90)" font-family="'Liberation Sans', sans-serif" font-size="20.10" letter-spacing="0.967" fill="#333" >SUGAR</text>
<text x="0" y="0" transform="translate(61.00 537.44) rotate(-90)" font-family="'Liberation Sans', sans-serif" font-size="20.10" letter-spacing="0.361" fill="#333" >SPIKE</text>
<g font-family="'Liberation Sans', sans-serif" font-size="20.3" fill="#333">
<text transform="translate(435.07 833.10) scale(1.1587 1.0000)">T</text>
<text transform="translate(451.72 833.10) scale(1.1092 1.0000)">I</text>
<text transform="translate(460.04 833.10) scale(0.8763 1.0000)">M</text>
<text transform="translate(477.24 833.10) scale(0.6362 1.0000)">E</text>
<text transform="translate(495.27 833.10) scale(1.1587 1.0000)">T</text>
<text transform="translate(508.36 833.10) scale(1.0401 1.0000)">A</text>
<text transform="translate(526.20 833.10) scale(1.0818 1.0000)">K</text>
<text transform="translate(542.93 833.10) scale(0.6998 1.0000)">E</text>
<text transform="translate(555.39 833.10) scale(0.7849 1.0000)">N</text>
</g>
</svg>
</body></html>
